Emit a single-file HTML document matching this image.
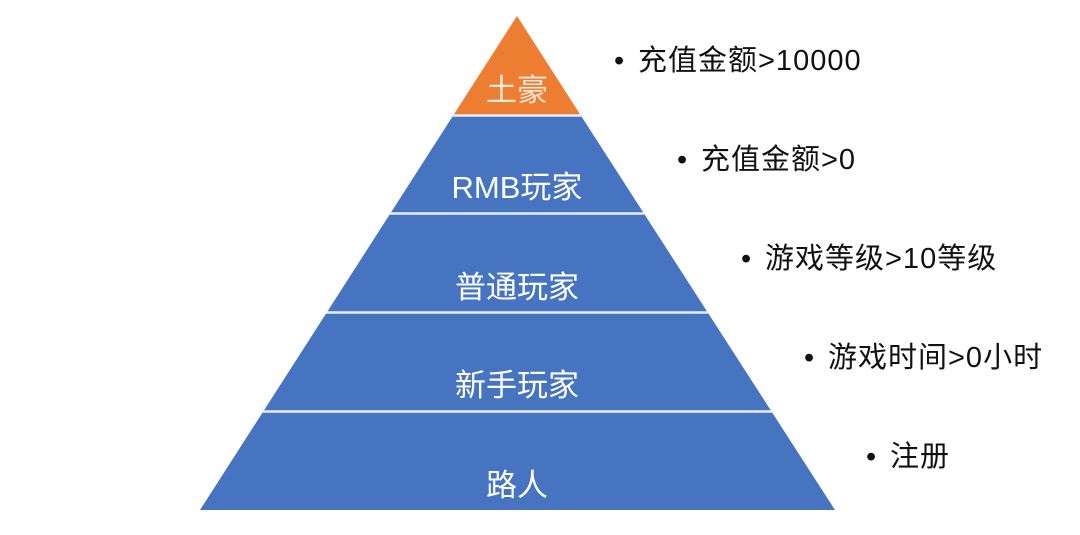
<!DOCTYPE html>
<html><head><meta charset="utf-8"><style>
html,body{margin:0;padding:0;background:#fff;}
body{width:1080px;height:535px;position:relative;overflow:hidden;font-family:"Liberation Sans","Noto Sans CJK SC",sans-serif;}
.b{position:absolute;font-size:29px;color:#111;white-space:nowrap;line-height:1;letter-spacing:1px;}
.b span{display:inline-block;width:24px;}
</style></head><body>
<svg width="1080" height="535" style="position:absolute;left:0;top:0">
<polygon points="517,16 453.5,115 580.5,115" fill="#ED7D31"/>
<polygon points="453.5,115 580.5,115 835,510 200,510" fill="#4674C0"/>
<g stroke="#e8eef8" stroke-width="2.5">
<line x1="452" y1="115.5" x2="582" y2="115.5"/>
<line x1="390" y1="213.5" x2="644" y2="213.5"/>
<line x1="326" y1="312.5" x2="708" y2="312.5"/>
<line x1="263" y1="411.5" x2="772" y2="411.5"/>
</g>
<g fill="#fff" font-family="Liberation Sans, Noto Sans CJK SC, sans-serif" font-size="31" text-anchor="middle">
<text x="517" y="101" fill="#fbe9dc">土豪</text>
<text x="517" y="198">RMB玩家</text>
<text x="517" y="298">普通玩家</text>
<text x="517" y="396">新手玩家</text>
<text x="517" y="496">路人</text>
</g>
</svg>
<div class="b" style="left:614px;top:47px"><span>•</span>充值金额&gt;10000</div>
<div class="b" style="left:677px;top:146px"><span>•</span>充值金额&gt;0</div>
<div class="b" style="left:741px;top:245px"><span>•</span>游戏等级&gt;10等级</div>
<div class="b" style="left:804px;top:344px"><span>•</span>游戏时间&gt;0小时</div>
<div class="b" style="left:866px;top:443px"><span>•</span>注册</div>
</body></html>
